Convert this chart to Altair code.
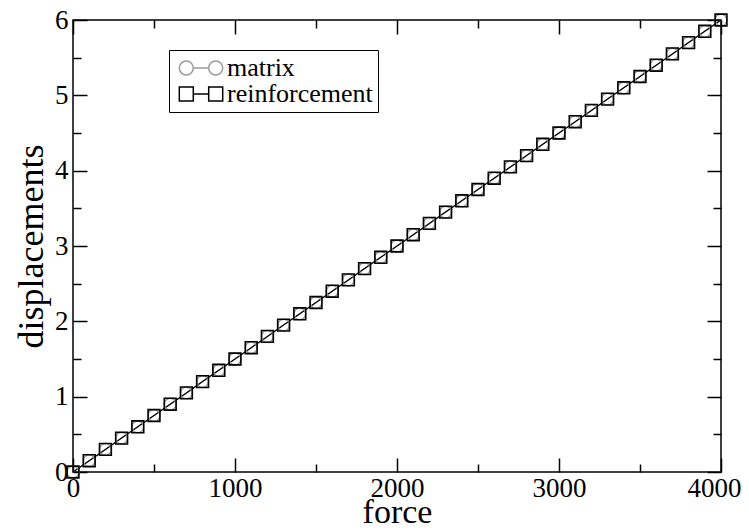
import altair as alt
import pandas as pd

# ---- data ----
force = [0, 100, 200, 300, 400, 500, 600, 700, 800, 900,
         1000, 1100, 1200, 1300, 1400, 1500, 1600, 1700, 1800, 1900,
         2000, 2100, 2200, 2300, 2400, 2500, 2600, 2700, 2800, 2900,
         3000, 3100, 3200, 3300, 3400, 3500, 3600, 3700, 3800, 3900, 4000]
matrix_disp = [0.0, 0.15, 0.3, 0.45, 0.6, 0.75, 0.9, 1.05, 1.2, 1.35,
               1.5, 1.65, 1.8, 1.95, 2.1, 2.25, 2.4, 2.55, 2.7, 2.85,
               3.0, 3.15, 3.3, 3.45, 3.6, 3.75, 3.9, 4.05, 4.2, 4.35,
               4.5, 4.65, 4.8, 4.95, 5.1, 5.25, 5.4, 5.55, 5.7, 5.85, 6.0]
reinf_disp = [0.0, 0.15, 0.3, 0.45, 0.6, 0.75, 0.9, 1.05, 1.2, 1.35,
              1.5, 1.65, 1.8, 1.95, 2.1, 2.25, 2.4, 2.55, 2.7, 2.85,
              3.0, 3.15, 3.3, 3.45, 3.6, 3.75, 3.9, 4.05, 4.2, 4.35,
              4.5, 4.65, 4.8, 4.95, 5.1, 5.25, 5.4, 5.55, 5.7, 5.85, 6.0]
series_names = ["matrix", "reinforcement"]
x_ticks = [0, 500, 1000, 1500, 2000, 2500, 3000, 3500, 4000]
y_ticks = [0, 0.5, 1, 1.5, 2, 2.5, 3, 3.5, 4, 4.5, 5, 5.5, 6]

df = pd.concat([
    pd.DataFrame({"force": force, "disp": matrix_disp, "series": series_names[0]}),
    pd.DataFrame({"force": force, "disp": reinf_disp, "series": series_names[1]}),
])

FONT = "Liberation Serif"
W, H = 648, 452

# legend glyphs: marker - line - marker
circ = ("M-3.1,0 A1,1 0 1,1 -1.1,0 A1,1 0 1,1 -3.1,0 "
        "M-1.1,0 L1.1,0 "
        "M1.1,0 A1,1 0 1,1 3.1,0 A1,1 0 1,1 1.1,0")
sq = ("M-3.1,-1 L-1.1,-1 L-1.1,1 L-3.1,1 Z "
      "M-1.1,0 L1.1,0 "
      "M1.1,-1 L3.1,-1 L3.1,1 L1.1,1 Z")

legend = alt.Legend(
    title=None, orient="none", legendX=96, legendY=30,
    labelFont=FONT, labelFontSize=26, labelColor="black",
    strokeColor="black", fillColor="white", padding=5,
    symbolSize=196, symbolStrokeWidth=1.5, symbolOffset=14, labelOffset=13,
    symbolOpacity=1, symbolFillColor="transparent", rowPadding=0,
)

color_scale = alt.Scale(domain=series_names, range=["#9a9a9a", "#000000"])

common_axis = dict(grid=False, domain=False, labelFont=FONT, titleFont=FONT,
                   labelColor="black", titleColor="black", titleFontWeight="normal",
                   labelOverlap=False, labelFlush=False, format="d")

x_major_dash = {"condition": {"test": "datum.value % 1000 !== 0", "value": [8, 40]},
                "value": [40, 0]}
y_major_dash = {"condition": {"test": "datum.value % 1 !== 0", "value": [8, 40]},
                "value": [40, 0]}
tick_axis = dict(grid=False, domain=False, labels=False, title=None, ticks=True,
                 tickSize=14, tickWidth=1.5, tickColor="black")

xscale = alt.Scale(domain=[0, 4000], nice=False, zero=False)
yscale = alt.Scale(domain=[0, 6], nice=False, zero=False)

# lines (with labelled bottom / left axes)
lines = alt.Chart(df).mark_line(strokeWidth=1.2).encode(
    x=alt.X("force:Q", scale=xscale, axis=alt.Axis(
        orient="bottom", values=x_ticks, title="force", labelFontSize=27, titleFontSize=34,
        labelExpr="datum.value % 1000 === 0 ? datum.label : ''", labelPadding=3,
        labelOffset={"condition": {"test": "datum.value === 4000", "value": -7}, "value": 0},
        ticks=False, tickSize=0, titlePadding=-6, **common_axis)),
    y=alt.Y("disp:Q", scale=yscale, axis=alt.Axis(
        orient="left", values=y_ticks, title="displacements", labelFontSize=27, titleFontSize=36,
        labelExpr="datum.value % 1 === 0 ? datum.label : ''", labelPadding=5,
        ticks=False, tickSize=0, titlePadding=4, **common_axis)),
    color=alt.Color("series:N", scale=color_scale),
    detail="series:N",
    order="force:Q",
)

# matrix circles (carry inward ticks on bottom and left edges)
circles = alt.Chart(df).transform_filter(
    alt.datum.series == "matrix"
).mark_point(shape="circle", size=140, strokeWidth=1.5, filled=False, opacity=1).encode(
    x=alt.X("force:Q", scale=xscale, axis=alt.Axis(
        orient="top", offset=-H, values=x_ticks, tickDash=x_major_dash, **tick_axis)),
    y=alt.Y("disp:Q", scale=yscale, axis=alt.Axis(
        orient="right", offset=-W, values=y_ticks, tickDash=y_major_dash, **tick_axis)),
    color=alt.Color("series:N", scale=color_scale),
)

# reinforcement squares (carry inward ticks on top and right edges)
squares = alt.Chart(df).transform_filter(
    alt.datum.series == "reinforcement"
).mark_point(shape="square", size=140, strokeWidth=1.6, filled=False, opacity=1).encode(
    x=alt.X("force:Q", scale=xscale, axis=alt.Axis(
        orient="bottom", offset=-H, values=x_ticks, tickDash=x_major_dash, **tick_axis)),
    y=alt.Y("disp:Q", scale=yscale, axis=alt.Axis(
        orient="left", offset=-W, values=y_ticks, tickDash=y_major_dash, **tick_axis)),
    color=alt.Color("series:N", scale=color_scale),
)

# legend carrier (no marks drawn)
legend_layer = alt.Chart(df).transform_filter("false").mark_point(
    filled=False, strokeWidth=1.5, opacity=1
).encode(
    x=alt.X("force:Q", scale=xscale, axis=None),
    y=alt.Y("disp:Q", scale=yscale, axis=None),
    color=alt.Color("series:N", scale=color_scale, legend=legend),
    shape=alt.Shape("series:N", scale=alt.Scale(domain=series_names, range=[circ, sq]),
                    legend=legend),
)

chart = alt.layer(lines, circles, squares, legend_layer).resolve_axis(
    x="independent", y="independent"
).properties(
    width=W, height=H,
    autosize=alt.AutoSizeParams(type="none"),
    padding={"left": 65, "top": 12, "right": 20, "bottom": 52},
    background="white",
).configure(font=FONT).configure_legend(
    labelFont=FONT, labelFontSize=26, labelColor="black"
).configure_view(stroke="black", strokeWidth=1.5)

chart.save("out.html", embed_options={"renderer": "svg", "actions": False})
